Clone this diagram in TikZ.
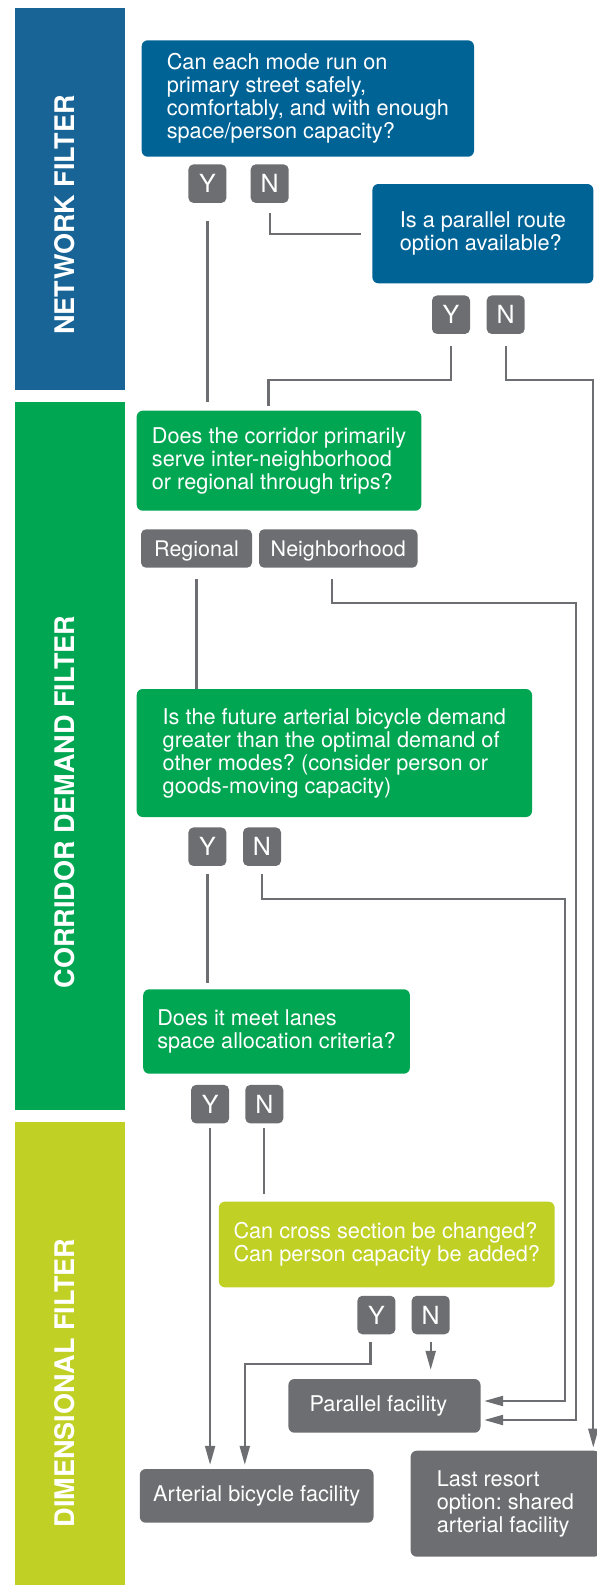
\documentclass[tikz,border=0pt]{standalone}
\usepackage{fontspec}
\setmainfont{TeX Gyre Heros}
\usetikzlibrary{arrows.meta,calc}
\definecolor{sideblue}{RGB}{24,100,150}
\definecolor{boxblue}{RGB}{0,99,150}
\definecolor{fgreen}{RGB}{0,166,81}
\definecolor{flime}{RGB}{192,208,36}
\definecolor{fgray}{RGB}{109,110,113}
\frenchspacing
\begin{document}
\begin{tikzpicture}[x=1pt,y=-1pt,
  sidelabel/.style={rotate=90, text=white, inner sep=0pt, font=\fontsize{27}{30}\selectfont\bfseries},
  qbox/.style={fill=#1, rounded corners=6pt, text=white, align=left, inner sep=0pt, font=\fontsize{21.7}{23}\selectfont},
  badge/.style={fill=fgray, rounded corners=5pt, text=white, minimum width=38pt, minimum height=38.5pt, inner sep=0pt, font=\fontsize{25}{25}\selectfont},
  tag/.style={fill=fgray, rounded corners=5pt, text=white, minimum height=38.4pt, inner sep=0pt, text height=15pt, text depth=0pt, font=\fontsize{21.5}{23}\selectfont},
  conn/.style={draw=fgray, line width=2.2pt},
  arr/.style={conn, -{Triangle[length=19pt,width=10pt]}},
]
\useasboundingbox (0,0) rectangle (597,1585);
% sidebars
\fill[sideblue] (15,8) rectangle (124.5,390);
\fill[fgreen] (15,402) rectangle (124.5,1110);
\fill[flime] (15,1122) rectangle (124.5,1590);
\node[sidelabel] (lab1) at (65,215) {NETWORK FILTER};
\node[sidelabel] (lab2) at (65,802) {CORRIDOR DEMAND FILTER};
\node[sidelabel] (lab3) at (65,1383) {DIMENSIONAL FILTER};

% boxes
\node[qbox=boxblue, minimum width=332.3pt, minimum height=116.4pt] (q1) at (307.85,98.5)
  {Can each mode run on\\primary street safely,\\comfortably, and with enough\\space/person capacity?};
\node[qbox=boxblue, minimum width=220.9pt, minimum height=99.3pt] (q2) at (482.85,233.65)
  {Is a parallel route\\option available?};
\node[qbox=fgreen, minimum width=284.6pt, minimum height=100pt] (q3) at (279,460.7)
  {Does the corridor primarily\\serve inter-neighborhood\\or regional through trips?};
\node[qbox=fgreen, minimum width=395.3pt, minimum height=128pt] (q4) at (334.35,753)
  {Is the future arterial bicycle demand\\greater than the optimal demand of\\other modes? (consider person or\\goods-moving capacity)};
\node[qbox=fgreen, minimum width=266.7pt, minimum height=84.4pt] (q5) at (276.55,1031.5)
  {Does it meet lanes\\space allocation criteria?};
\node[qbox=flime, minimum width=335.7pt, minimum height=85.6pt] (q6) at (386.75,1244.5)
  {Can cross section be changed?\\Can person capacity be added?};
\node[qbox=fgray, minimum width=192.1pt, minimum height=53.7pt] (par) at (384.45,1405.85)
  {Parallel facility\hspace*{12pt}};
\node[qbox=fgray, minimum width=233.8pt, minimum height=53.7pt] (art) at (256.7,1495.85)
  {Arterial bicycle facility};
\node[qbox=fgray, minimum width=189.3pt, minimum height=106pt] (last) at (505.35,1503.7)
  {Last resort\\option: shared\\arterial facility};

% badges
\node[badge] (y1) at (207.4,183.65) {Y};
\node[badge] (n1) at (269.7,183.65) {N};
\node[badge] (y2) at (451,314.7) {Y};
\node[badge] (n2) at (505.7,314.7) {N};
\node[tag, minimum width=111pt] (reg) at (196.5,548.5) {Regional};
\node[tag, minimum width=158.5pt] (nb) at (338.25,548.5) {Neighborhood};
\node[badge] (y3) at (207.4,846.7) {Y};
\node[badge] (n3) at (262,846.7) {N};
\node[badge] (y4) at (210.1,1104.15) {Y};
\node[badge] (n4) at (264.3,1104.15) {N};
\node[badge] (y5) at (376.4,1315) {Y};
\node[badge] (n5) at (430.7,1315) {N};

% connectors
\coordinate (j1) at (268.5,380);
\coordinate (j2) at (593.3,380);
\coordinate (j3) at (576,602.7);
\coordinate (j4) at (576,1420);
\coordinate (j5) at (565,898.7);
\coordinate (j6) at (565,1401);
\coordinate (j7) at (244.8,1364.3);

\draw[conn, shorten <=18pt, shorten >=8.7pt] (y1.south) -- (y1.south |- q3.north);
\draw[conn, shorten <=10pt, shorten >=11pt] (n1.south) |- (q2.west);
\draw[conn, shorten <=12pt, shorten >=5pt] (y2.south) |- (j1) -- (j1 |- q3.north);
\draw[arr, shorten <=12pt, shorten >=3pt] (n2.south) |- (j2) -- (j2 |- last.north);
\draw[conn, shorten <=11pt] (reg.south) -- (reg.south |- q4.north);
\draw[arr, shorten >=3.5pt] ($(nb.south)+(-6,11.3)$) |- (j3) -- (j4) -- (j4 -| par.east);
\draw[arr, shorten <=8pt, shorten >=3.5pt] (n3.south) |- (j5) -- (j6) -- (j6 -| par.east);
\draw[conn, shorten <=8pt, shorten >=6pt] (y3.south) -- (y3.south |- q5.north);
\draw[arr, shorten <=4.5pt, shorten >=4pt] (y4.south) -- (y4.south |- art.north);
\draw[conn, shorten <=4.5pt, shorten >=7.4pt] (n4.south) -- (n4.south |- q6.north);
\draw[arr, shorten >=4pt] ($(y5.south)+(-6,7.4)$) |- (j7) -- (j7 |- art.north);
\draw[arr, shorten <=7.4pt, shorten >=9pt] (n5.south) -- (n5.south |- par.north);
\end{tikzpicture}
\end{document}
